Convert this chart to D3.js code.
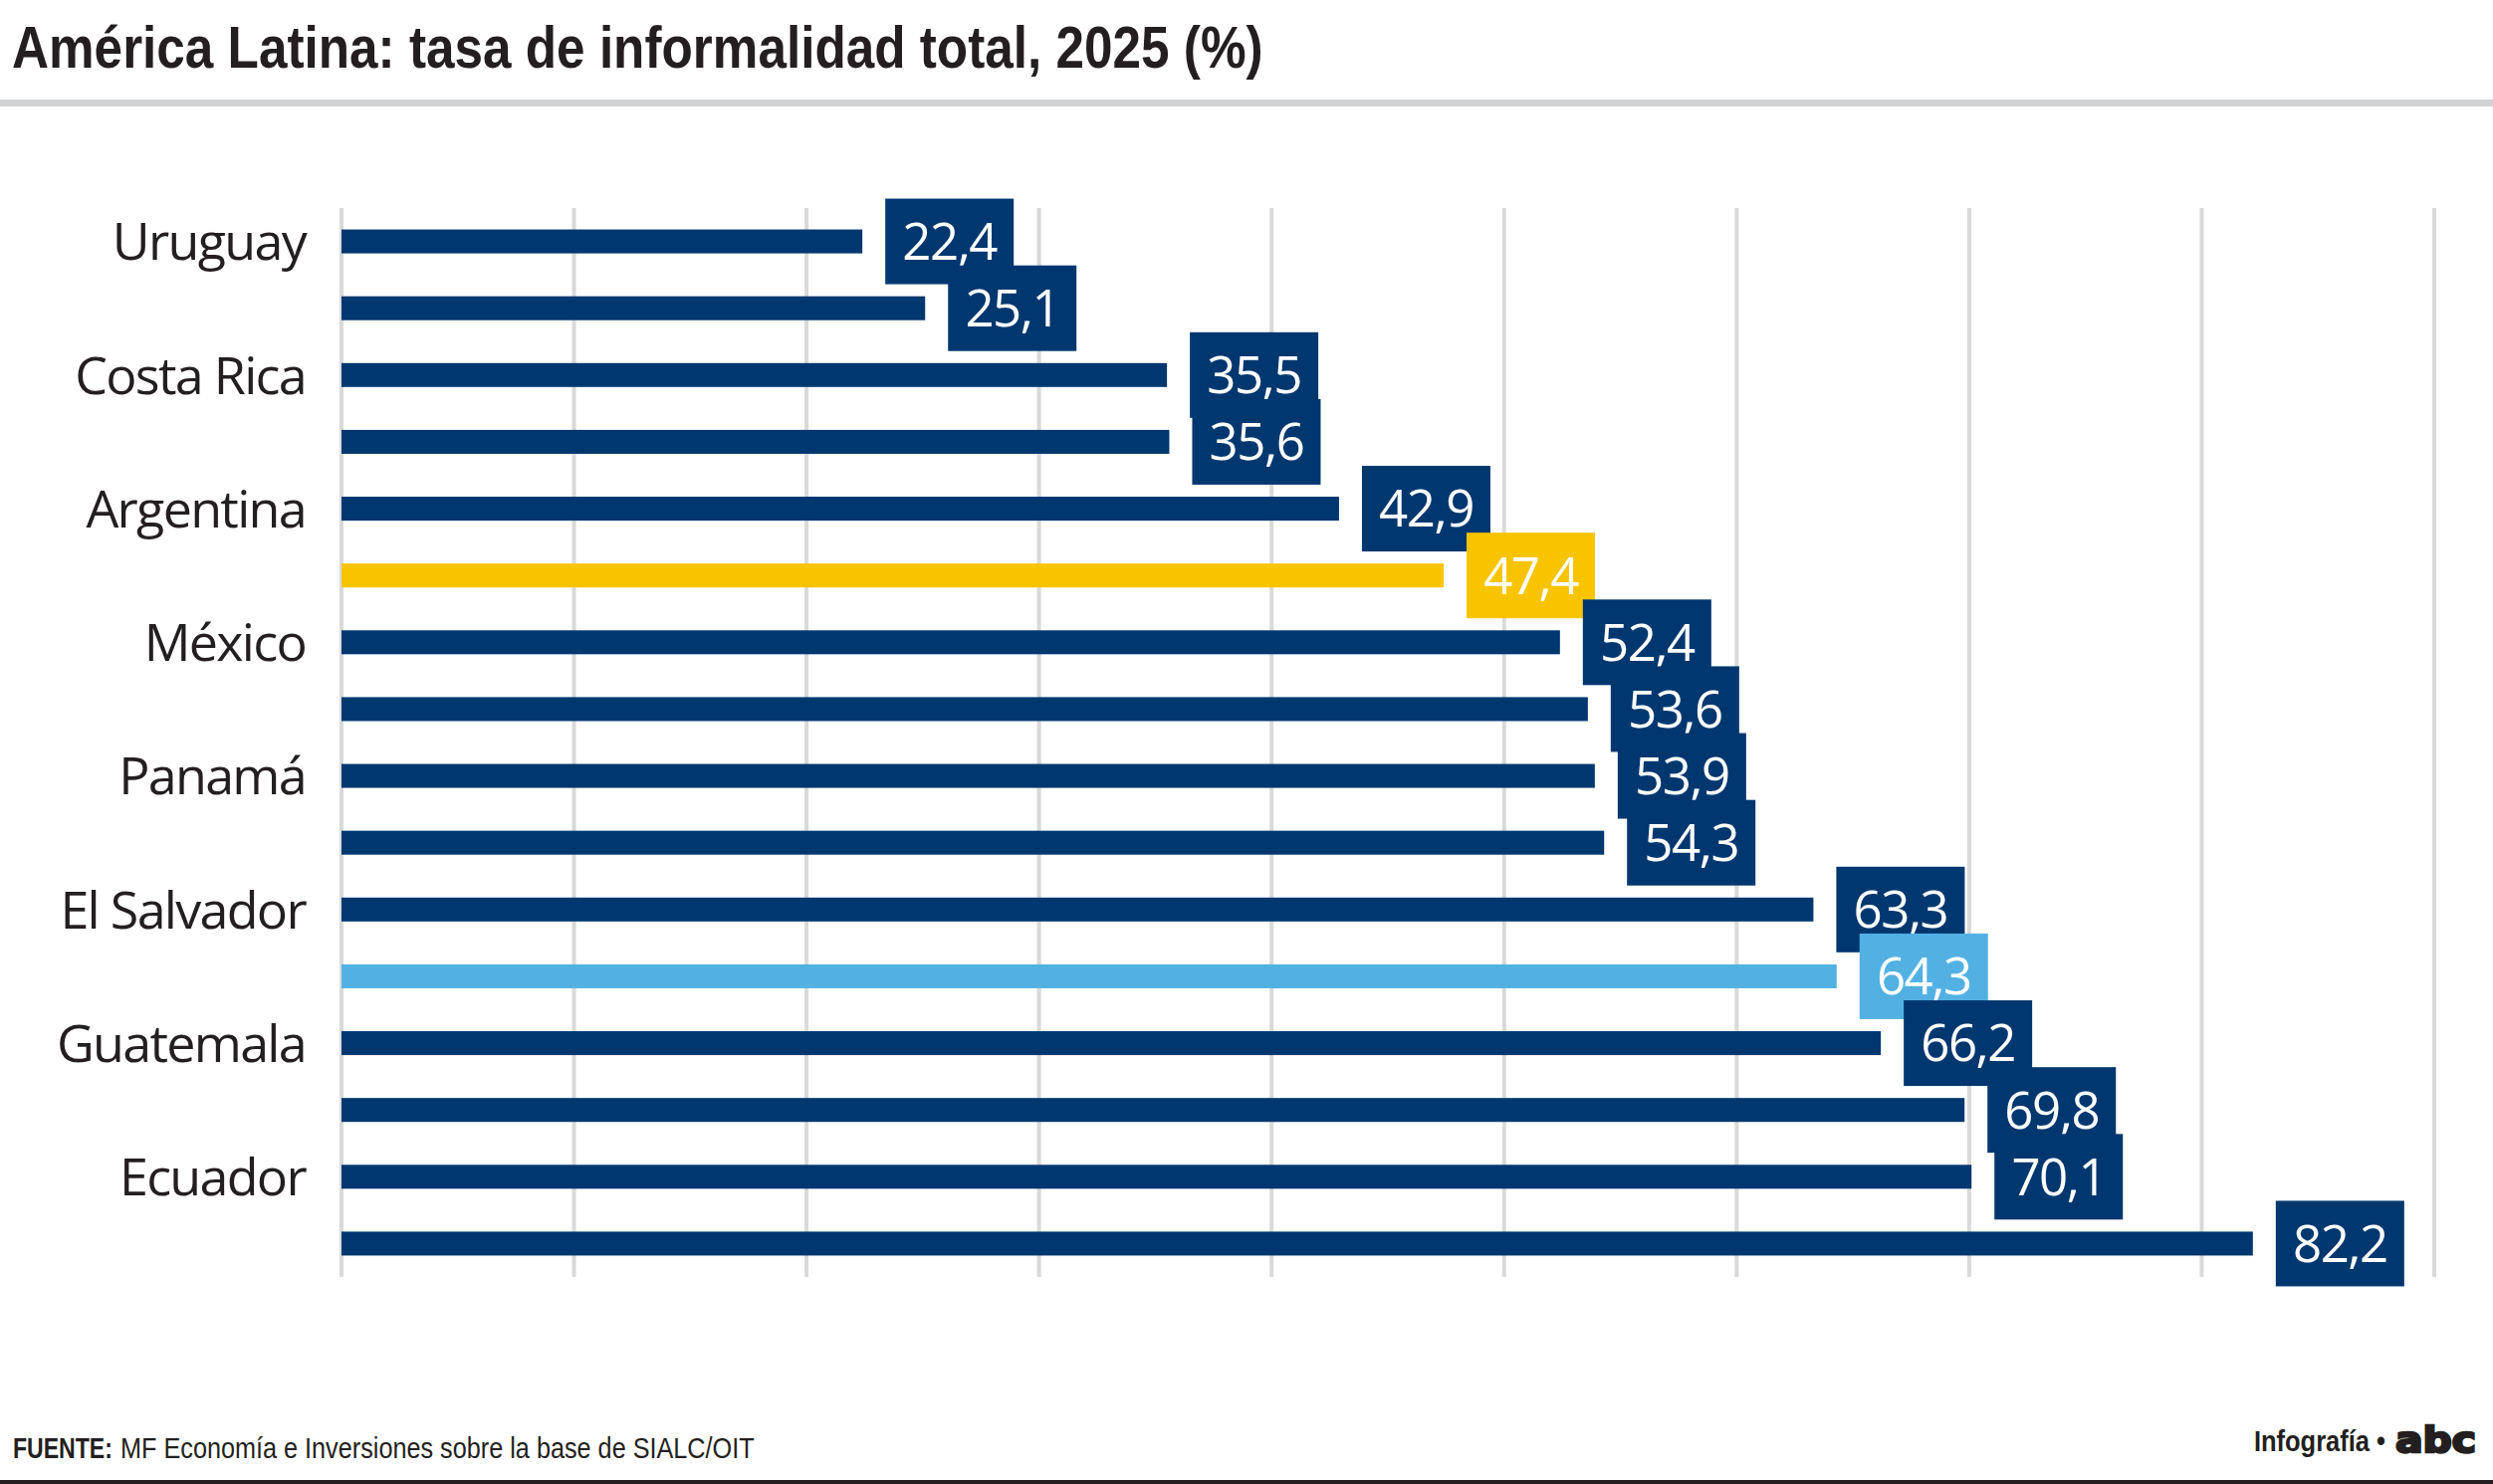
<!DOCTYPE html>
<html>
<head>
<meta charset="utf-8">
<script src="https://cdn.jsdelivr.net/npm/d3@7"></script>
<style>
  body { margin: 0; background: #fff; }
  svg { display: block; }
</style>
</head>
<body>
<div id="chart"></div>
<script>
// categorias (solo se rotulan las filas pares, como en el original)
const paises = ["Uruguay", "Chile", "Costa Rica", "Brasil", "Argentina", "América Latina",
                "México", "República Dominicana", "Panamá", "Colombia", "El Salvador",
                "Paraguay", "Guatemala", "Perú", "Ecuador", "Bolivia"];
const tasas = [22.4, 25.1, 35.5, 35.6, 42.9, 47.4, 52.4, 53.6, 53.9, 54.3, 63.3, 64.3, 66.2, 69.8, 70.1, 82.2];
const ticksX = [0, 10, 20, 30, 40, 50, 60, 70, 80, 90];

const titulo = "América Latina: tasa de informalidad total, 2025 (%)";
const fuente = "MF Economía e Inversiones sobre la base de SIALC/OIT";

const AZUL = "#00376f", AMARILLO = "#f8c400", CELESTE = "#52b1e2";
const destacados = {"América Latina": AMARILLO, "Paraguay": CELESTE};
const TINTA = "#231f20";

const W = 2504, H = 1491;
const svg = d3.select("#chart").append("svg")
    .attr("width", W).attr("height", H);

/**
 * Writes a text and squeezes it horizontally to the given width
 * (the fonts in the original are condensed).
 */
function textoAncho(txt, x, y, ancho, size, weight, family) {
    let t = svg.append("text")
        .style("font-family", family || "'Liberation Sans', Arial, sans-serif")
        .style("font-weight", weight || "normal")
        .style("font-size", size + "px")
        .style("fill", TINTA)
        .text(txt);
    let natural = t.node().getComputedTextLength();
    t.attr("transform", "translate(" + x + "," + y + ") scale(" + (ancho / natural) + ",1)");
    return t;
}

// titulo
textoAncho(titulo, 12, 68, 1257, 60, "bold");

svg.append("rect")
    .attr("x", 0).attr("y", 100).attr("width", W).attr("height", 7)
    .style("fill", "#d1d2d4");

let data = paises.map((p, i) => ({pais: p, valor: tasas[i], i: i}));

let xScale = d3.scaleLinear().domain([0, 90]).range([343, 2445]);
let yScale = d3.scaleBand()
    .domain(paises)
    .range([209, 1283])
    .paddingInner(0.642)
    .paddingOuter(0.321);

const BAR_H = yScale.bandwidth();
const centro = d => yScale(d.pais) + BAR_H / 2;

// lineas de grilla
svg.append("g").selectAll("line").data(ticksX).enter().append("line")
    .attr("x1", d => xScale(d)).attr("x2", d => xScale(d))
    .attr("y1", 209).attr("y2", 1283)
    .style("stroke", "#d9d9db").style("stroke-width", 4);

// etiquetas de paises
svg.append("g").selectAll("text").data(data.filter(d => d.i % 2 == 0)).enter().append("text")
    .attr("x", 307)
    .attr("y", d => centro(d))
    .attr("dy", "0.36em")
    .attr("text-anchor", "end")
    .style("font-family", "'Open Sans', sans-serif")
    .style("font-size", "52px")
    .style("letter-spacing", "-1.7px")
    .style("fill", TINTA)
    .text(d => d.pais);

const color = d => destacados[d.pais] || AZUL;

// barras
svg.append("g").selectAll("rect").data(data).enter().append("rect")
    .attr("x", xScale(0))
    .attr("y", d => yScale(d.pais))
    .attr("width", d => xScale(d.valor) - xScale(0))
    .attr("height", BAR_H)
    .style("fill", color);

// cajas con los valores
const BOX_W = 129, BOX_H = 86, GAP = 23;
let cajas = svg.append("g").selectAll("g").data(data).enter().append("g")
    .attr("transform", d => "translate(" + (xScale(d.valor) + GAP) + "," + (centro(d) - BOX_H / 2) + ")");

cajas.append("rect")
    .attr("width", BOX_W).attr("height", BOX_H)
    .style("fill", color);

cajas.append("text")
    .attr("x", BOX_W / 2).attr("y", BOX_H / 2)
    .attr("dy", "0.36em")
    .attr("text-anchor", "middle")
    .style("font-family", "'Open Sans', sans-serif")
    .style("font-size", "51px")
    .style("letter-spacing", "-1.5px")
    .style("fill", "#fff")
    .text(d => d3.format(".1f")(d.valor).replace(".", ","));

// pie
textoAncho("FUENTE:", 13, 1465, 100, 29, "bold");
textoAncho(fuente, 121, 1465, 637, 29, "normal");
textoAncho("Infografía •", 2264, 1458, 132, 29, "bold");

// logotipo
textoAncho("abc", 2406, 1459, 81, 36, "900", "'DejaVu Sans', sans-serif")
    .style("stroke", TINTA)
    .style("stroke-width", 2.5);

svg.append("rect")
    .attr("x", 0).attr("y", 1487).attr("width", W).attr("height", 4)
    .style("fill", TINTA);
</script>
</body>
</html>
